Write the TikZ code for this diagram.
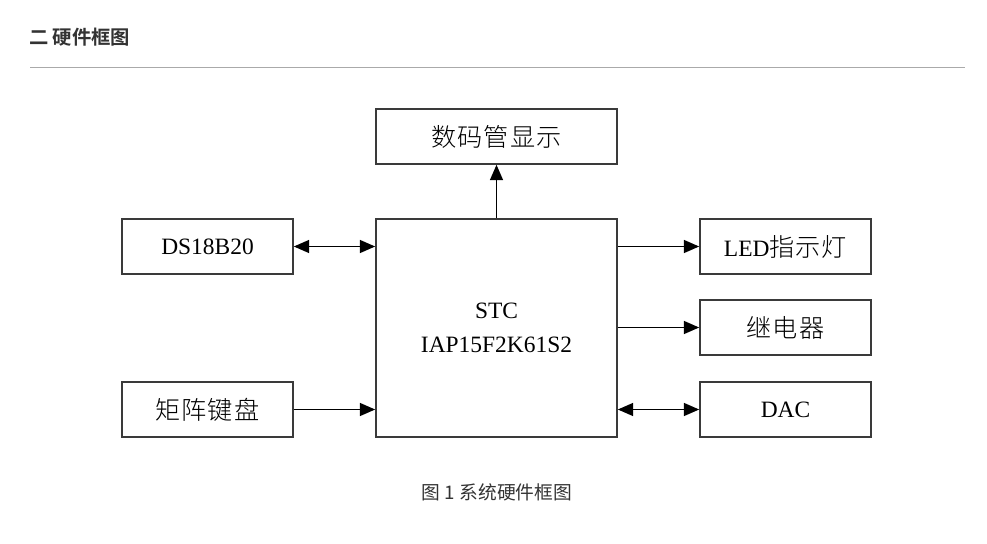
\documentclass[tikz,border=0pt]{standalone}
\usepackage{fontspec}
\setmainfont{Liberation Serif}
\newfontfamily\cjk[LetterSpace=4]{Noto Sans CJK SC Light}
\newfontfamily\cjkplain{Noto Sans CJK SC}
\newfontfamily\cjkbold{Noto Sans CJK SC Bold}
\usetikzlibrary{positioning,arrows.meta,calc}
\definecolor{boxline}{HTML}{3A3A3A}
\definecolor{headtext}{HTML}{333333}
\definecolor{rulegray}{HTML}{AAAAAA}
\tikzset{
  >={Triangle[length=13pt,width=11pt]},
  block/.style={draw=boxline, line width=1.4pt, fill=white, inner sep=0pt,
    minimum height=1.65cm, font=\fontsize{20}{24}\selectfont},
  small/.style={block, minimum width=5.13cm},
  wide/.style={block, minimum width=7.23cm},
  link/.style={line width=1.3pt},
}

\begin{document}
\begin{tikzpicture}[x=0.03cm,y=-0.03cm]
\useasboundingbox (0,0) rectangle (987,544);

% heading and rule
\node[anchor=west, text=headtext, font=\cjkbold\fontsize{16.5}{19}\selectfont, inner sep=0pt] (head) at (29,37) {二 硬件框图};
\draw[rulegray, line width=0.8pt] (30,67) -- (965,67);

% blocks
\node[wide] (disp) at (496.5,136.5) {\cjk\fontsize{21.5}{24}\selectfont 数码管显示};
\node[wide, minimum height=6.54cm, align=center] (mcu) at (496.5,328) {STC\\[5pt]IAP15F2K61S2};
\node[small] (ds) at (207.5,246.5) {DS18B20};
\node[small] (key) at (207.5,409.5) {\cjk\fontsize{21.5}{24}\selectfont 矩阵键盘};
\node[small] (led) at (785.5,246.5) {LED{\cjk\fontsize{21.5}{24}\selectfont 指示灯}};
\node[small] (relay) at (785.5,327.5) {\cjk\fontsize{21.5}{24}\selectfont 继电器};
\node[small] (dac) at (785.5,409.5) {DAC};

% connectors
\draw[->, link] (mcu.north) -- (disp.south);
\draw[<->, link] (ds.east) -- (ds.east -| mcu.west);
\draw[->, link] (key.east) -- (key.east -| mcu.west);
\draw[->, link] (led.west -| mcu.east) -- (led.west);
\draw[->, link] (relay.west -| mcu.east) -- (relay.west);
\draw[<->, link] (dac.west -| mcu.east) -- (dac.west);

% caption
\node[text=headtext, font=\cjkplain\fontsize{16}{19}\selectfont, inner sep=0pt] (cap) at (497,492) {图 1 系统硬件框图};
\end{tikzpicture}
\end{document}
